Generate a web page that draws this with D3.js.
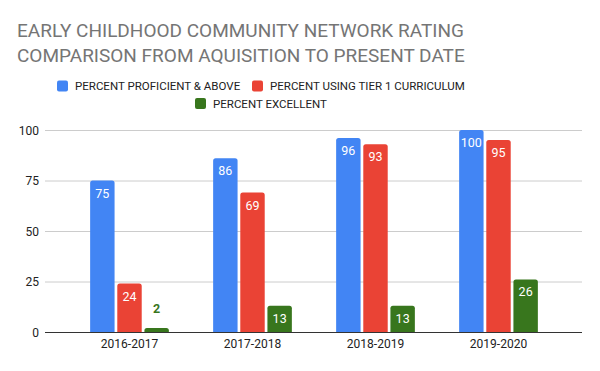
<!DOCTYPE html>
<html>
<head>
<meta charset="utf-8">
<script src="https://cdn.jsdelivr.net/npm/d3@7"></script>
<style>
  html, body { margin: 0; padding: 0; background: #ffffff; }
  svg { display: block; font-family: Roboto, Arial, sans-serif; }
</style>
</head>
<body>
<div id="chart"></div>
<script>
"use strict";
// data
const titleLines = ["EARLY CHILDHOOD COMMUNITY NETWORK RATING", "COMPARISON FROM AQUISITION TO PRESENT DATE"];
const years = ["2016-2017", "2017-2018", "2018-2019", "2019-2020"];
const seriesNames = ["PERCENT PROFICIENT & ABOVE", "PERCENT USING TIER 1 CURRICULUM", "PERCENT EXCELLENT"];
const proficient = [75, 86, 96, 100];
const tier1 = [24, 69, 93, 95];
const excellent = [2, 13, 13, 26];
const yTicks = [0, 25, 50, 75, 100];

const seriesColors = ["#4285f4", "#ea4335", "#38761d"];
const seriesValues = [proficient, tier1, excellent];

const width = 600, height = 371;
const svg = d3.select("#chart").append("svg")
    .attr("width", width)
    .attr("height", height);

// title
const g_title = svg.append("g");
titleLines.forEach(function (line, i) {
    g_title.append("text")
        .text(line)
        .attr("x", 17)
        .attr("y", 37 + i * 25)
        .style("fill", "#757575")
        .style("font-size", "19px");
});

// legend
const legendRows = [
    [{ idx: 0, x: 57 }, { idx: 1, x: 252 }],
    [{ idx: 2, x: 195 }]
];
legendRows.forEach(function (row, r) {
    row.forEach(function (item) {
        const g = svg.append("g").attr("transform", "translate(" + item.x + "," + (86 + r * 17.5) + ")");
        g.append("rect")
            .attr("x", 0)
            .attr("y", -5.5)
            .attr("width", 11)
            .attr("height", 11)
            .attr("rx", 2)
            .attr("fill", seriesColors[item.idx]);
        g.append("text")
            .text(seriesNames[item.idx])
            .attr("x", 18)
            .attr("y", 4.2)
            .style("fill", "#222222")
            .style("font-size", "11.5px");
    });
});

// scales
const y = d3.scaleLinear().domain([0, 100]).range([332, 130]);
const x0 = d3.scaleBand().domain(years).range([68, 560]).paddingInner(0.36).paddingOuter(0.18);
const x1 = d3.scaleBand().domain(d3.range(seriesNames.length)).range([0, x0.bandwidth()]).paddingInner(0.1);

// gridlines
svg.append("g")
    .selectAll("line")
    .data(yTicks.filter(function (d) { return d > 0; }))
    .join("line")
    .attr("x1", 45)
    .attr("x2", 582)
    .attr("y1", function (d) { return y(d) + 0.5; })
    .attr("y2", function (d) { return y(d) + 0.5; })
    .attr("stroke", "#cccccc")
    .attr("stroke-width", 1);

// y axis labels
const yAxis = d3.axisLeft(y).tickValues(yTicks).tickSize(0).tickPadding(0);
svg.append("g")
    .attr("transform", "translate(39,0)")
    .call(yAxis)
    .call(function (g) { g.select(".domain").remove(); })
    .selectAll("text")
    .attr("dy", "0.35em")
    .style("fill", "#222222")
    .style("font-size", "12px")
    .style("font-family", "Roboto, Arial, sans-serif");

// bars
function barPath(x, yTop, w, h, r) {
    r = Math.min(r, h, w / 2);
    return "M" + x + "," + (yTop + h) +
        "V" + (yTop + r) +
        "Q" + x + "," + yTop + " " + (x + r) + "," + yTop +
        "H" + (x + w - r) +
        "Q" + (x + w) + "," + yTop + " " + (x + w) + "," + (yTop + r) +
        "V" + (yTop + h) + "Z";
}

const g_groups = svg.append("g")
    .selectAll("g")
    .data(years)
    .join("g")
    .attr("transform", function (d) { return "translate(" + x0(d) + ",0)"; });

g_groups.each(function (year, yi) {
    const g = d3.select(this);
    seriesValues.forEach(function (vals, si) {
        const v = vals[yi];
        const bx = x1(si);
        const bw = x1.bandwidth();
        const top = y(v);
        g.append("path")
            .attr("d", barPath(bx, top, bw, y(0) - top, 2.5))
            .attr("fill", seriesColors[si]);
        const inside = (y(0) - top) > 20;
        g.append("text")
            .text(v)
            .attr("x", bx + bw / 2)
            .attr("y", inside ? top + 17 : top - 15)
            .attr("text-anchor", "middle")
            .style("fill", inside ? "#ffffff" : seriesColors[si])
            .style("font-weight", inside ? "normal" : "bold")
            .style("font-size", "12.5px");
    });
});

// baseline
svg.append("line")
    .attr("x1", 45)
    .attr("x2", 582)
    .attr("y1", y(0) + 0.5)
    .attr("y2", y(0) + 0.5)
    .attr("stroke", "#333333")
    .attr("stroke-width", 1);

// x axis labels
const xAxis = d3.axisBottom(x0).tickSize(0).tickPadding(0);
svg.append("g")
    .attr("transform", "translate(0," + 348 + ")")
    .call(xAxis)
    .call(function (g) { g.select(".domain").remove(); })
    .selectAll("text")
    .attr("dy", 0)
    .style("fill", "#222222")
    .style("font-size", "12px")
    .style("font-family", "Roboto, Arial, sans-serif");
</script>
</body>
</html>
